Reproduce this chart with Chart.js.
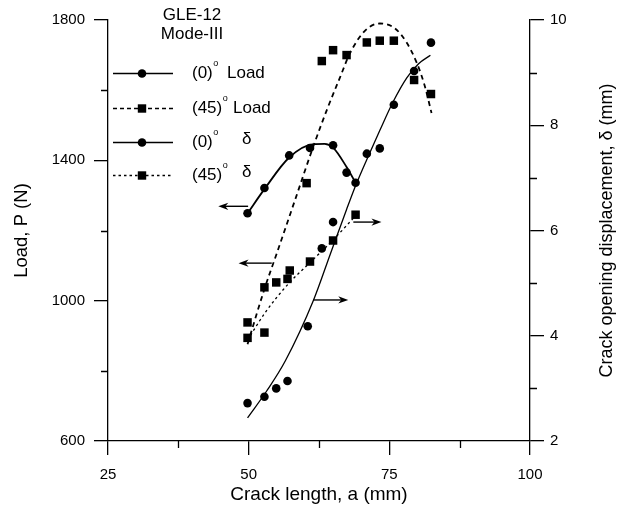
<!DOCTYPE html>
<html><head><meta charset="utf-8">
<script src="https://cdn.jsdelivr.net/npm/chart.js@4/dist/chart.umd.min.js"></script>
<style>html,body{margin:0;padding:0;background:#fff;}canvas{display:block;}</style>
</head><body>
<canvas id="c" width="623" height="506"></canvas>
<script>
// ---- tick values ----
const xTicks = [25, 50, 75, 100];
const xMinor = [37.5, 62.5, 87.5];
const loadTicks = [600, 1000, 1400, 1800];
const loadMinor = [800, 1200, 1600];
const deltaTicks = [2, 4, 6, 8, 10];
const deltaMinor = [3, 5, 7, 9];

// ---- measured points ----
const load0A = [49.8, 52.8, 57.2, 60.9, 65.0, 67.4, 69.0];
const load0P = [1249, 1321, 1414, 1435, 1443, 1365, 1336];
const load45A = [49.8, 52.8, 54.9, 60.3, 63.0, 65.0, 67.4, 71.0, 73.3, 75.8, 79.4, 82.4];
const load45P = [938, 1038, 1052, 1335, 1683, 1714, 1700, 1736, 1741, 1741, 1629, 1589];
const d0A = [49.8, 52.8, 54.9, 56.9, 60.5, 63.0, 65.0, 71.0, 73.3, 75.8, 79.4, 82.4];
const d0V = [2.72, 2.84, 3.00, 3.14, 4.18, 5.66, 6.16, 7.46, 7.56, 8.39, 9.03, 9.57];
const d45A = [49.8, 52.8, 56.9, 57.3, 60.9, 65.0, 69.0];
const d45V = [3.96, 4.06, 5.08, 5.24, 5.41, 5.81, 6.30];

// ---- fitted curves ----
const fitLoad0A = [49.8, 52.8, 57.2, 61.5, 63.5, 65.0, 67.4, 69.0];
const fitLoad0P = [1249, 1318, 1408, 1446, 1447, 1436, 1381, 1336];
const fitLoad45A = [49.8, 52.8, 55.0, 58.2, 61.5, 64.0, 66.2, 68.0, 70.7, 73.3, 76.0, 78.1, 79.9, 81.3, 82.5];
const fitLoad45P = [876, 1033, 1135, 1285, 1440, 1548, 1635, 1705, 1770, 1790, 1776, 1735, 1677, 1612, 1535];
const fitD0A = [49.8, 53.2, 56.5, 61.5, 64.5, 67.4, 69.0, 71.0, 73.3, 75.7, 78.1, 80.2, 82.3];
const fitD0V = [2.44, 2.95, 3.52, 4.67, 5.55, 6.40, 6.85, 7.35, 7.90, 8.45, 8.90, 9.17, 9.33];
const fitD45A = [49.8, 53.0, 57.0, 61.0, 65.0, 69.0];
const fitD45V = [3.92, 4.45, 4.98, 5.40, 5.82, 6.28];

// ---- annotation arrows (data units) ----
const arrows = [
  { axis: 'y', from: [49.9, 1269], to: [44.6, 1269] },
  { axis: 'y', from: [54.1, 1107], to: [48.2, 1107] },
  { axis: 'y1', from: [68.6, 6.16], to: [73.6, 6.16] },
  { axis: 'y1', from: [61.5, 4.68], to: [67.7, 4.68] }
];

const FONT = '"Liberation Sans", Arial, Helvetica, sans-serif';
const pts = (xs, ys) => xs.map((x, i) => ({ x: x, y: ys[i] }));

function markerSet(label, xs, ys, axis, style) {
  return {
    label: label, data: pts(xs, ys), yAxisID: axis, showLine: false,
    pointStyle: style, pointRadius: style === 'rect' ? 6 : 4.3,
    pointBackgroundColor: '#000', pointBorderColor: '#000', pointBorderWidth: 0
  };
}
function curveSet(label, xs, ys, axis, width, dash) {
  return {
    label: label, data: pts(xs, ys), yAxisID: axis, showLine: true,
    borderColor: '#000', borderWidth: width, borderDash: dash,
    pointRadius: 0, cubicInterpolationMode: 'monotone', fill: false
  };
}

function drawArrow(ctx, x1, y1, x2, y2) {
  const ang = Math.atan2(y2 - y1, x2 - x1);
  const L = 10, W = 3.6;
  ctx.beginPath();
  ctx.moveTo(x1, y1);
  ctx.lineTo(x2 - L * 0.6 * Math.cos(ang), y2 - L * 0.6 * Math.sin(ang));
  ctx.stroke();
  ctx.beginPath();
  ctx.moveTo(x2, y2);
  ctx.lineTo(x2 - L * Math.cos(ang) - W * Math.sin(ang), y2 - L * Math.sin(ang) + W * Math.cos(ang));
  ctx.lineTo(x2 - L * 0.7 * Math.cos(ang), y2 - L * 0.7 * Math.sin(ang));
  ctx.lineTo(x2 - L * Math.cos(ang) + W * Math.sin(ang), y2 - L * Math.sin(ang) - W * Math.cos(ang));
  ctx.closePath();
  ctx.fill();
}

const deco = {
  id: 'deco',
  afterDraw(chart) {
    const { ctx, chartArea: a, scales } = chart;
    const X = scales.x;
    ctx.save();
    ctx.strokeStyle = '#000'; ctx.fillStyle = '#000'; ctx.lineWidth = 1.3;
    // minor ticks
    ctx.beginPath();
    xMinor.forEach(v => { const p = Math.round(X.getPixelForValue(v)) + 0.5; ctx.moveTo(p, a.bottom); ctx.lineTo(p, a.bottom + 7); });
    loadMinor.forEach(v => { const p = Math.round(scales.y.getPixelForValue(v)) + 0.5; ctx.moveTo(a.left, p); ctx.lineTo(a.left - 7, p); });
    deltaMinor.forEach(v => { const p = Math.round(scales.y1.getPixelForValue(v)) + 0.5; ctx.moveTo(a.right, p); ctx.lineTo(a.right + 7, p); });
    ctx.stroke();
    // arrows
    ctx.lineWidth = 1.4;
    arrows.forEach(ar => {
      const S = scales[ar.axis];
      drawArrow(ctx, X.getPixelForValue(ar.from[0]), S.getPixelForValue(ar.from[1]),
                     X.getPixelForValue(ar.to[0]), S.getPixelForValue(ar.to[1]));
    });
    // title block
    ctx.font = '17px ' + FONT;
    ctx.textAlign = 'center'; ctx.textBaseline = 'middle';
    ctx.fillText('GLE-12', 192, 15);
    ctx.fillText('Mode-III', 192, 34);
    // legend
    const rows = [
      { y: 73, dash: [], w: 1.3, mk: 'c', pre: '(0)', word: 'Load', wx: 227 },
      { y: 108, dash: [4, 3], w: 1.6, mk: 's', pre: '(45)', word: 'Load', wx: 233 },
      { y: 142, dash: [], w: 1.3, mk: 'c', pre: '(0)', word: 'δ', wx: 242 },
      { y: 175, dash: [2.5, 3], w: 1.3, mk: 's', pre: '(45)', word: 'δ', wx: 242 }
    ];
    rows.forEach(r => {
      ctx.save();
      ctx.lineWidth = r.w; ctx.setLineDash(r.dash);
      ctx.beginPath(); ctx.moveTo(113, r.y + 0.5); ctx.lineTo(173, r.y + 0.5); ctx.stroke();
      ctx.restore();
      ctx.beginPath();
      if (r.mk === 'c') { ctx.arc(142, r.y + 0.5, 4.3, 0, Math.PI * 2); ctx.fill(); }
      else { ctx.fillRect(142 - 4.2, r.y + 0.5 - 4.2, 8.4, 8.4); }
      ctx.textAlign = 'left'; ctx.textBaseline = 'middle';
      ctx.font = '17px ' + FONT;
      ctx.fillText(r.pre, 192, r.y);
      const wPre = ctx.measureText(r.pre).width;
      ctx.font = '9px ' + FONT;
      ctx.fillText('o', 192 + wPre + 0.5, r.y - 9);
      ctx.font = '17px ' + FONT;
      ctx.fillText(r.word, r.wx, r.word === 'δ' ? r.y - 3 : r.y);
    });
    // right axis title (reads bottom-to-top)
    ctx.save();
    ctx.translate(607, (a.top + a.bottom) / 2);
    ctx.rotate(-Math.PI / 2);
    ctx.font = '18px ' + FONT;
    ctx.textAlign = 'center'; ctx.textBaseline = 'middle';
    ctx.fillText('Crack opening displacement, δ (mm)', 0, 0);
    ctx.restore();
    ctx.restore();
  }
};

const tickFont = { family: FONT, size: 15 };
const gridOpt = { drawOnChartArea: false, drawTicks: true, tickLength: 14, color: '#000', lineWidth: 1.3 };
const borderOpt = { display: true, color: '#000', width: 1.3 };
const plain = v => String(v);

new Chart(document.getElementById('c'), {
  type: 'scatter',
  data: {
    datasets: [
      curveSet('fit 0 load', fitLoad0A, fitLoad0P, 'y', 1.8, []),
      curveSet('fit 45 load', fitLoad45A, fitLoad45P, 'y', 1.8, [5, 4]),
      curveSet('fit 0 delta', fitD0A, fitD0V, 'y1', 1.3, []),
      curveSet('fit 45 delta', fitD45A, fitD45V, 'y1', 1.3, [2.5, 3]),
      markerSet('(0)° Load', load0A, load0P, 'y', 'circle'),
      markerSet('(45)° Load', load45A, load45P, 'y', 'rect'),
      markerSet('(0)° δ', d0A, d0V, 'y1', 'circle'),
      markerSet('(45)° δ', d45A, d45V, 'y1', 'rect')
    ]
  },
  options: {
    responsive: false, animation: false, devicePixelRatio: 1,
    layout: { padding: { top: 20, left: 0, right: 0, bottom: 0 } },
    plugins: { legend: { display: false }, tooltip: { enabled: false } },
    scales: {
      x: {
        type: 'linear', min: 25, max: 100,
        afterBuildTicks: s => { s.ticks = xTicks.map(v => ({ value: v })); },
        afterFit: s => { s.height = 65; },
        grid: gridOpt, border: borderOpt,
        ticks: { font: tickFont, color: '#000', padding: 11, maxRotation: 0, callback: plain },
        title: { display: true, text: 'Crack length, a (mm)', font: { family: FONT, size: 19 }, color: '#000', padding: { top: 0, bottom: 0 } }
      },
      y: {
        type: 'linear', position: 'left', min: 600, max: 1800,
        afterBuildTicks: s => { s.ticks = loadTicks.map(v => ({ value: v })); },
        afterFit: s => { s.width = 108; },
        grid: gridOpt, border: borderOpt,
        ticks: { font: tickFont, color: '#000', padding: 9, callback: plain },
        title: { display: true, text: 'Load, P (N)', font: { family: FONT, size: 18.5 }, color: '#000', padding: { top: 11, bottom: 0 } }
      },
      y1: {
        type: 'linear', position: 'right', min: 2, max: 10,
        afterBuildTicks: s => { s.ticks = deltaTicks.map(v => ({ value: v })); },
        afterFit: s => { s.width = 93; },
        grid: gridOpt, border: borderOpt,
        ticks: { font: tickFont, color: '#000', padding: 6, callback: plain }
      }
    }
  },
  plugins: [deco]
});
</script>
</body></html>
